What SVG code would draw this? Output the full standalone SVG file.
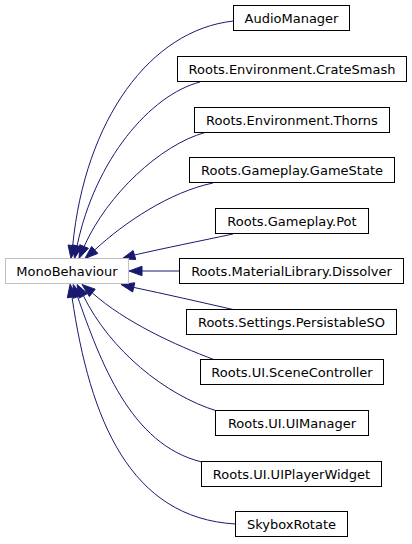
<svg xmlns="http://www.w3.org/2000/svg" width="412" height="544" viewBox="0 0 412 544">
<style>
.node rect{fill:#fff;stroke:#000;stroke-width:1}
.ext rect{stroke:#bfbfbf}
text{font-family:"DejaVu Sans","Liberation Sans",sans-serif;font-size:13px;fill:#000;text-anchor:middle}
.edges path{fill:none;stroke:#191970;stroke-width:1}
.edges polygon{fill:#191970;stroke:#191970;stroke-width:1}
</style>
<rect width="412" height="544" fill="#fff"/>
<g class="edges" id="edges">
<path d="M233.5,21 C150,30 85,120 72.7,245.6"/>
<polygon points="68.05,244.99 77.35,246.21 71,258.5"/>
<path d="M200,82 C150,95 95,160 77.1,245.8"/>
<polygon points="72.5,244.9 81.7,246.7 74.5,258.5"/>
<path d="M205,132.5 C160,145 107,195 84.1,246.5"/>
<polygon points="79.8,244.7 88.4,248.3 79,258.5"/>
<path d="M213,183 C170,192 125,222 94.75,249.9"/>
<polygon points="91.65,246.4 97.85,253.4 85,258.5"/>
<path d="M233,234 C200,241 165,248 134.4,255"/>
<polygon points="133.1,250.5 135.8,259.5 122,258.8"/>
<path d="M179.5,271 L142,271"/>
<polygon points="142,266.3 142,275.7 129,271"/>
<path d="M233,309.5 C200,302 165,294 133.7,287.4"/>
<polygon points="134.75,282.8 132.65,292 121,284.5"/>
<path d="M215,360 C175,345 125,322 92.3,292.9"/>
<polygon points="95.2,289.2 89.4,296.6 82,284.5"/>
<path d="M217,411 C165,395 110,350 83.4,295.8"/>
<polygon points="87.5,293.5 79.3,298.1 77,284.5"/>
<path d="M202,462 C130,445 100,360 77.55,296.7"/>
<polygon points="81.98,295.13 73.12,298.27 73.2,284.4"/>
<path d="M235.5,524 C130,518 90,420 72,297.1"/>
<polygon points="76.65,296.4 67.35,297.8 70.1,284.2"/>
</g>
<g class="node ext" id="node_MonoBehaviour">
<rect x="5.5" y="258.5" width="123" height="25"/>
<text x="67" y="275.5">MonoBehaviour</text>
</g>
<g class="node" id="node_AudioManager">
<rect x="233.5" y="5.5" width="116" height="25"/>
<text x="291.5" y="22.5">AudioManager</text>
</g>
<g class="node" id="node_CrateSmash">
<rect x="177.5" y="56.5" width="229" height="25"/>
<text x="292" y="73.5">Roots.Environment.CrateSmash</text>
</g>
<g class="node" id="node_Thorns">
<rect x="194.5" y="107.5" width="195" height="25"/>
<text x="292" y="124.5">Roots.Environment.Thorns</text>
</g>
<g class="node" id="node_GameState">
<rect x="189.5" y="157.5" width="205" height="25"/>
<text x="292" y="174.5">Roots.Gameplay.GameState</text>
</g>
<g class="node" id="node_Pot">
<rect x="215.5" y="208.5" width="153" height="25"/>
<text x="292" y="225.5">Roots.Gameplay.Pot</text>
</g>
<g class="node" id="node_Dissolver">
<rect x="179.5" y="258.5" width="224" height="25"/>
<text x="291.5" y="275.5">Roots.MaterialLibrary.Dissolver</text>
</g>
<g class="node" id="node_PersistableSO">
<rect x="186.5" y="309.5" width="210" height="25"/>
<text x="291.5" y="326.5">Roots.Settings.PersistableSO</text>
</g>
<g class="node" id="node_SceneController">
<rect x="200.5" y="359.5" width="183" height="25"/>
<text x="292" y="376.5">Roots.UI.SceneController</text>
</g>
<g class="node" id="node_UIManager">
<rect x="215.5" y="410.5" width="153" height="25"/>
<text x="292" y="427.5">Roots.UI.UIManager</text>
</g>
<g class="node" id="node_UIPlayerWidget">
<rect x="201.5" y="461.5" width="180" height="25"/>
<text x="291.5" y="478.5">Roots.UI.UIPlayerWidget</text>
</g>
<g class="node" id="node_SkyboxRotate">
<rect x="235.5" y="511.5" width="112" height="25"/>
<text x="291.5" y="528.5">SkyboxRotate</text>
</g>
</svg>
